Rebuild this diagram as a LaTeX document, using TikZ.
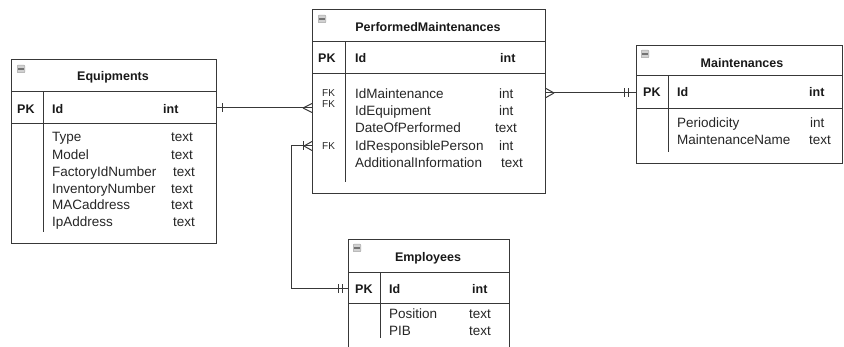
\documentclass[tikz,border=0pt]{standalone}
\usepackage{fontspec}
\setmainfont{Liberation Sans}

\tikzset{
  tablebox/.style={draw=black!78, line width=1pt, inner sep=0pt, anchor=north west},
  tableline/.style={draw=black!78, line width=1pt},
  iconbox/.style={draw=black!35, fill=black!18, line width=0.5pt, rounded corners=0.8pt, minimum size=7.5pt, inner sep=0pt, anchor=north west},
  tabletitle/.style={inner sep=0pt, text=black!90, font=\fontsize{12.5}{14}\selectfont\bfseries, text height=9pt, text depth=0pt},
  keyfield/.style={anchor=west, inner sep=0pt, text=black!90, font=\fontsize{12.5}{14}\selectfont\bfseries, text height=9pt, text depth=0pt},
  field/.style={anchor=west, inner sep=0pt, text=black!85, font=\fontsize{13.5}{16}\selectfont, text height=9.7pt, text depth=0pt},
  fklabel/.style={anchor=west, inner sep=0pt, text=black!85, font=\fontsize{10}{11}\selectfont, text height=7.2pt, text depth=0pt},
  rel/.style={draw=black!78, line width=1pt},
}

\begin{document}
\begin{tikzpicture}[x=1pt, y=-1pt]
  \useasboundingbox (0,0) rectangle (844,347);

  % Equipments
  \node[tablebox, minimum width=205pt, minimum height=184pt] (equip) at (11,59) {};
  \node[iconbox] (equipicon) at (17,65) {};
  \draw[black!55, line width=1.2pt] ([xshift=1.2pt]equipicon.west) -- ([xshift=-1.2pt]equipicon.east);
  \node[tabletitle] (equiptitle) at (113,76) {Equipments};
  \draw[tableline] (equip.west |- 0,92) -- (equip.east |- 0,92);
  \draw[tableline] (equip.west |- 0,124) -- (equip.east |- 0,124);
  \draw[tableline] (43,92) -- (43,232);
  \node[keyfield] (equippk) at (17,109) {PK};
  \node[keyfield] (equipid) at (52,109) {Id};
  \node[keyfield] (equipidtype) at (163,109) {int};
  \node[field] (equiptype) at (52,137) {Type};
  \node[field] (equiptypetype) at (171,137) {text};
  \node[field] (equipmodel) at (52,155) {Model};
  \node[field] (equipmodeltype) at (171,155) {text};
  \node[field] (equipfactory) at (52,172) {FactoryIdNumber};
  \node[field] (equipfactorytype) at (173,172) {text};
  \node[field] (equipinventory) at (52,189) {InventoryNumber};
  \node[field] (equipinventorytype) at (171,189) {text};
  \node[field] (equipmac) at (52,205) {MACaddress};
  \node[field] (equipmactype) at (171,205) {text};
  \node[field] (equipip) at (52,222) {IpAddress};
  \node[field] (equipiptype) at (173,222) {text};

  % PerformedMaintenances
  \node[tablebox, minimum width=233pt, minimum height=184pt] (pm) at (312,9) {};
  \node[iconbox] (pmicon) at (318,15) {};
  \draw[black!55, line width=1.2pt] ([xshift=1.2pt]pmicon.west) -- ([xshift=-1.2pt]pmicon.east);
  \node[tabletitle] (pmtitle) at (428,27) {PerformedMaintenances};
  \draw[tableline] (pm.west |- 0,42) -- (pm.east |- 0,42);
  \draw[tableline] (pm.west |- 0,74) -- (pm.east |- 0,74);
  \draw[tableline] (345,42) -- (345,182);
  \node[keyfield] (pmpk) at (318,58) {PK};
  \node[keyfield] (pmid) at (355,58) {Id};
  \node[keyfield] (pmidtype) at (500,58) {int};
  \node[fklabel] (pmfkone) at (322,93) {FK};
  \node[fklabel] (pmfktwo) at (322,104) {FK};
  \node[fklabel] (pmfkthree) at (322,146) {FK};
  \node[field] (pmidmaint) at (355,94) {IdMaintenance};
  \node[field] (pmidmainttype) at (499,94) {int};
  \node[field] (pmidequip) at (355,111) {IdEquipment};
  \node[field] (pmidequiptype) at (499,111) {int};
  \node[field] (pmdate) at (355,128) {DateOfPerformed};
  \node[field] (pmdatetype) at (495,128) {text};
  \node[field] (pmidresp) at (355,146) {IdResponsiblePerson};
  \node[field] (pmidresptype) at (499,146) {int};
  \node[field] (pminfo) at (355,163) {AdditionalInformation};
  \node[field] (pminfotype) at (501,163) {text};

  % Maintenances
  \node[tablebox, minimum width=206pt, minimum height=118pt] (maint) at (636,45) {};
  \node[iconbox] (mainticon) at (641,50) {};
  \draw[black!55, line width=1.2pt] ([xshift=1.2pt]mainticon.west) -- ([xshift=-1.2pt]mainticon.east);
  \node[tabletitle] (mainttitle) at (742,63) {Maintenances};
  \draw[tableline] (maint.west |- 0,76) -- (maint.east |- 0,76);
  \draw[tableline] (maint.west |- 0,109) -- (maint.east |- 0,109);
  \draw[tableline] (668,76) -- (668,152);
  \node[keyfield] (maintpk) at (643,92) {PK};
  \node[keyfield] (maintid) at (677,92) {Id};
  \node[keyfield] (maintidtype) at (809,92) {int};
  \node[field] (maintperiod) at (677,123) {Periodicity};
  \node[field] (maintperiodtype) at (810,123) {int};
  \node[field] (maintname) at (677,140) {MaintenanceName};
  \node[field] (maintnametype) at (809,140) {text};

  % Employees
  \node[tablebox, minimum width=161pt, minimum height=113pt] (emp) at (348,239) {};
  \node[iconbox] (empicon) at (353,244) {};
  \draw[black!55, line width=1.2pt] ([xshift=1.2pt]empicon.west) -- ([xshift=-1.2pt]empicon.east);
  \node[tabletitle] (emptitle) at (428,257) {Employees};
  \draw[tableline] (emp.west |- 0,273) -- (emp.east |- 0,273);
  \draw[tableline] (emp.west |- 0,304) -- (emp.east |- 0,304);
  \draw[tableline] (380,273) -- (380,338);
  \node[keyfield] (emppk) at (355,289) {PK};
  \node[keyfield] (empid) at (389,289) {Id};
  \node[keyfield] (empidtype) at (472,289) {int};
  \node[field] (emppos) at (389,314) {Position};
  \node[field] (empposttype) at (469,314) {text};
  \node[field] (emppib) at (389,331) {PIB};
  \node[field] (emppibtype) at (469,331) {text};

  % Equipments -- PerformedMaintenances
  \draw[rel] (equip.east |- 0,108) -- (pm.west |- 0,108);
  \draw[rel] ([xshift=5pt]equip.east |- 0,108) ++(0,-4.5) -- ++(0,9);
  \draw[rel] ([xshift=-9pt]pm.west |- 0,108) -- ++(9,-4.5)
             ([xshift=-9pt]pm.west |- 0,108) -- ++(9,4.5);

  % PerformedMaintenances -- Maintenances
  \draw[rel] (pm.east |- 0,93) -- (maint.west |- 0,93);
  \draw[rel] ([xshift=8pt]pm.east |- 0,93) -- ++(-8,-4.5)
             ([xshift=8pt]pm.east |- 0,93) -- ++(-8,4.5);
  \draw[rel] ([xshift=-12pt]maint.west |- 0,93) ++(0,-4.5) -- ++(0,9);
  \draw[rel] ([xshift=-8pt]maint.west |- 0,93) ++(0,-4.5) -- ++(0,9);

  % PerformedMaintenances -- Employees
  \coordinate (bend) at (291,0);
  \draw[rel] (pm.west |- pmidresp) -- (bend |- pmidresp) -- (bend |- emppk) -- (emp.west |- emppk);
  \draw[rel] ([xshift=-9pt]pm.west |- pmidresp) ++(0,-4.5) -- ++(0,9);
  \draw[rel] ([xshift=-8pt]pm.west |- pmidresp) -- ++(8,-4.5)
             ([xshift=-8pt]pm.west |- pmidresp) -- ++(8,4.5);
  \draw[rel] ([xshift=-10pt]emp.west |- emppk) ++(0,-4.5) -- ++(0,9);
  \draw[rel] ([xshift=-6pt]emp.west |- emppk) ++(0,-4.5) -- ++(0,9);
\end{tikzpicture}
\end{document}
